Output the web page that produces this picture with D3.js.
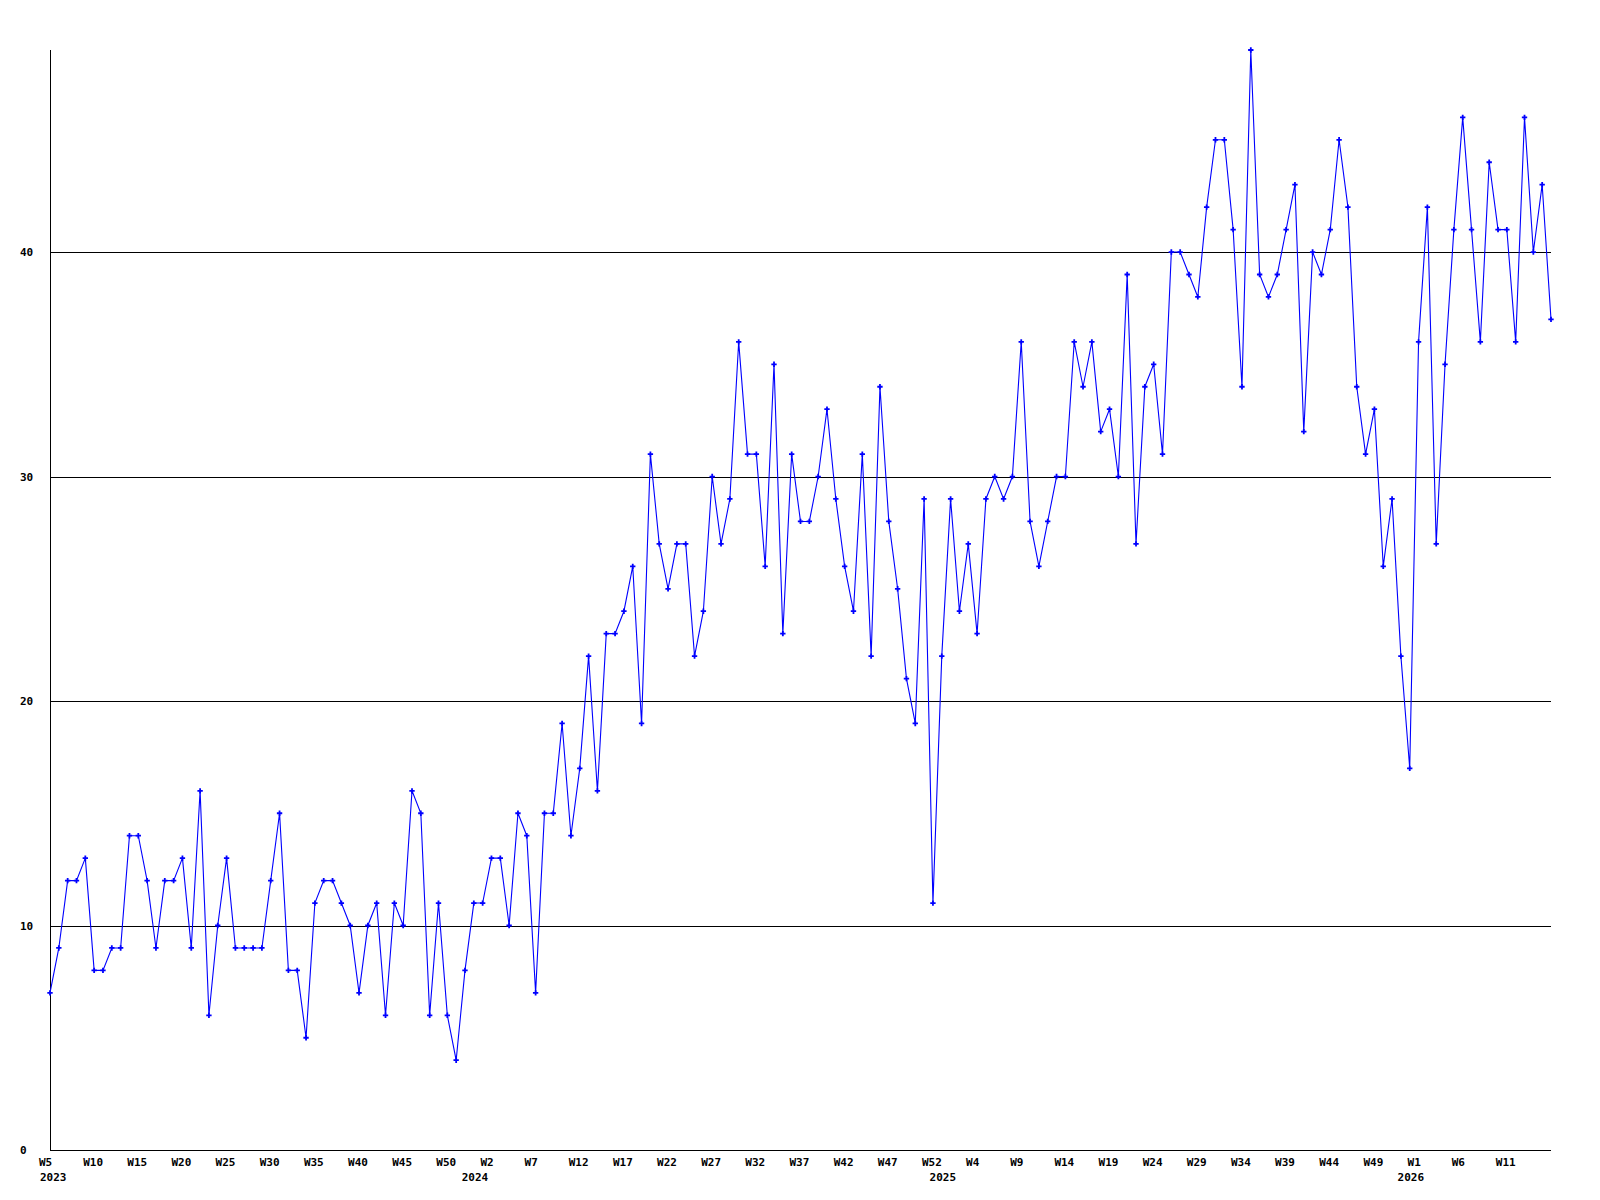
<!DOCTYPE html>
<html>
<head>
<meta charset="utf-8">
<script src="https://cdn.jsdelivr.net/npm/d3@7"></script>
<style>
  html, body { margin: 0; padding: 0; background: #ffffff; }
  svg text { font-family: "DejaVu Sans Mono", "Liberation Mono", monospace; font-weight: bold; font-size: 11px; fill: #000; }
</style>
</head>
<body>
<svg id="chart" width="1600" height="1200"></svg>
<script>
// ---- data ----
// weekly values, from 2023 W5 to 2026 W16
const values2023 = [7, 9, 12, 12, 13, 8, 8, 9, 9, 14, 14, 12, 9, 12, 12, 13, 9, 16, 6, 10,
  13, 9, 9, 9, 9, 12, 15, 8, 8, 5, 11, 12, 12, 11, 10, 7, 10, 11, 6, 11,
  10, 16, 15, 6, 11, 6, 4, 8, 11];
const values2024 = [11, 13, 13, 10, 15, 14, 7, 15, 15, 19, 14, 17, 22, 16, 23, 23, 24, 26, 19, 31,
  27, 25, 27, 27, 22, 24, 30, 27, 29, 36, 31, 31, 26, 35, 23, 31, 28, 28, 30, 33,
  29, 26, 24, 31, 22, 34, 28, 25, 21, 19, 29, 11, 22];
const values2025 = [29, 24, 27, 23, 29, 30, 29, 30, 36, 28, 26, 28, 30, 30, 36, 34, 36, 32, 33, 30,
  39, 27, 34, 35, 31, 40, 40, 39, 38, 42, 45, 45, 41, 34, 49, 39, 38, 39, 41, 43,
  32, 40, 39, 41, 45, 42, 34, 31, 33, 26, 29, 22, 17];
const values2026 = [36, 42, 27, 35, 41, 46, 41, 36, 44, 41, 41, 36, 46, 40, 43, 37];
const values = [].concat(values2023, values2024, values2025, values2026);

const xTickLabels = ["W5", "W10", "W15", "W20", "W25", "W30", "W35", "W40", "W45", "W50",
  "W2", "W7", "W12", "W17", "W22", "W27", "W32", "W37", "W42", "W47", "W52",
  "W4", "W9", "W14", "W19", "W24", "W29", "W34", "W39", "W44", "W49",
  "W1", "W6", "W11"];
const xTickEvery = 5;
const yearLabels = ["2023", "2024", "2025", "2026"];
const yearStartIndex = [0, values2023.length, values2023.length + values2024.length,
  values2023.length + values2024.length + values2025.length];
const yTicks = [0, 10, 20, 30, 40];
const yMax = 49;

// ---- chart ----
const svg = d3.select("#chart");
const plotLeft = 50, plotRight = 1551, plotTop = 50, plotBottom = 1150;

const x = d3.scaleLinear().domain([0, values.length - 1]).range([plotLeft, plotRight]);
const y = d3.scaleLinear().domain([0, yMax]).range([plotBottom, plotTop]);

// grid lines
svg.append("g").selectAll("line").data(yTicks.filter(d => d > 0)).join("line")
  .attr("x1", plotLeft).attr("x2", plotRight)
  .attr("y1", d => Math.round(y(d)) + 0.5).attr("y2", d => Math.round(y(d)) + 0.5)
  .attr("stroke", "#000").attr("stroke-width", 1).attr("shape-rendering", "crispEdges");

// axes lines
svg.append("line").attr("x1", plotLeft + 0.5).attr("x2", plotLeft + 0.5).attr("y1", plotTop).attr("y2", plotBottom + 0.5)
  .attr("stroke", "#000").attr("shape-rendering", "crispEdges");
svg.append("line").attr("x1", plotLeft).attr("x2", plotRight).attr("y1", plotBottom + 0.5).attr("y2", plotBottom + 0.5)
  .attr("stroke", "#000").attr("shape-rendering", "crispEdges");

// y labels
svg.append("g").selectAll("text").data(yTicks).join("text")
  .attr("x", 20).attr("y", d => y(d) + 4)
  .text(d => d);

// x labels
svg.append("g").selectAll("text").data(xTickLabels).join("text")
  .attr("x", (d, i) => x(i * xTickEvery) - 11)
  .attr("y", 1166)
  .text(d => d);

// year labels
svg.append("g").selectAll("text").data(yearLabels).join("text")
  .attr("x", (d, i) => i === 0 ? x(yearStartIndex[i]) - 10 : x(yearStartIndex[i]) - 21)
  .attr("y", 1181)
  .text(d => d);

// line
const line = d3.line().x((d, i) => x(i)).y(d => y(d));
svg.append("path").datum(values)
  .attr("d", line)
  .attr("fill", "none")
  .attr("stroke", "#0000ff")
  .attr("stroke-width", 1.1);

// markers
const sym = d3.symbol().type(d3.symbolCross).size(16);
svg.append("g").selectAll("path").data(values).join("path")
  .attr("transform", (d, i) => `translate(${x(i)},${y(d)})`)
  .attr("d", sym)
  .attr("fill", "#0000ff");
</script>
</body>
</html>
